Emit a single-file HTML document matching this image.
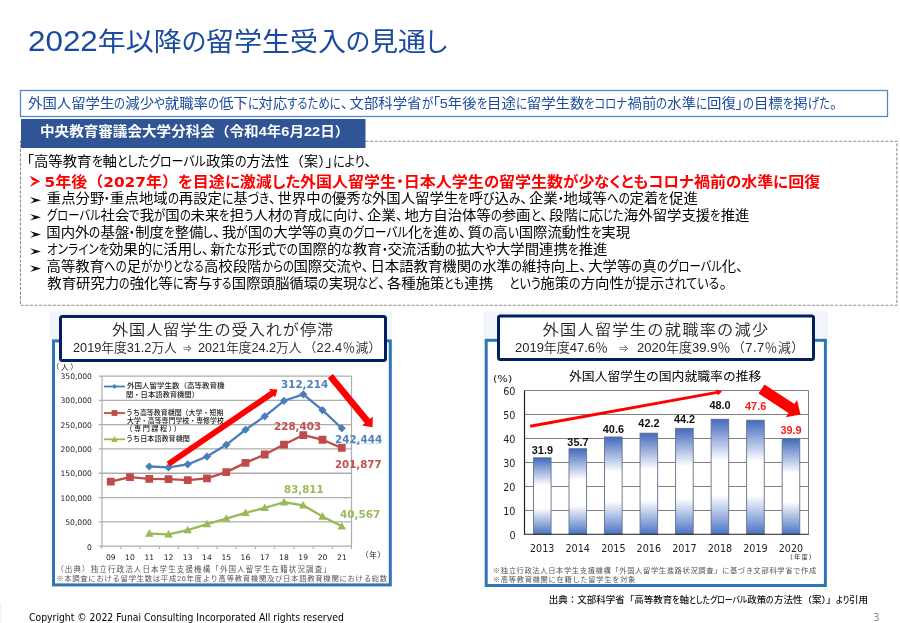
<!DOCTYPE html>
<html lang="ja">
<head>
<meta charset="utf-8">
<title>2022年以降の留学生受入の見通し</title>
<style>
html,body{margin:0;padding:0;background:#fff;}
body{width:900px;height:623px;overflow:hidden;}
#slide{position:relative;width:900px;height:623px;overflow:hidden;background:#fff;font-family:"Liberation Sans","Noto Sans CJK JP",sans-serif;}
svg{position:absolute;left:0;top:0;}
.t{position:absolute;white-space:nowrap;transform-origin:0 50%;font-feature-settings:"palt";color:#000;}
.k{display:inline-block;transform:scaleX(var(--s,1));transform-origin:0 50%;}
.w{font-feature-settings:normal;}
.p{letter-spacing:.1em;}
.e{font-size:1.12em;}
.b{font-family:"DejaVu Sans",sans-serif;font-size:.96em;}
.a{font-size:.72em;vertical-align:.12em;}
</style>
</head>
<body>
<div id="slide">
<svg width="900" height="623" viewBox="0 0 900 623">
<rect x="20.5" y="90.5" width="867" height="26" fill="#fff" stroke="#5587c8" stroke-width="1.3"/>
<rect x="20.5" y="141.3" width="876.4" height="164" fill="none" stroke="#8e8e8e" stroke-width="1.1" stroke-dasharray="3.1 1.5"/>
<rect x="0" y="603" width="1.2" height="20" fill="#f1f1f1"/>
<rect x="21" y="119" width="344.5" height="29" fill="#2f5597"/>
<rect x="49.5" y="311.5" width="342.5" height="30" fill="#f2f5fb"/>
<rect x="53.5" y="340.9" width="336.8" height="244" fill="#fff" stroke="#2e75b6" stroke-width="3"/>
<rect x="60.5" y="316.5" width="325" height="44" rx="2" fill="#fff" stroke="#002060" stroke-width="3"/>
<path d="M98.75 546.1H351.5M98.75 521.81H351.5M98.75 497.53H351.5M98.75 473.24H351.5M98.75 448.96H351.5M98.75 424.67H351.5M98.75 400.39H351.5M98.75 376.1H351.5" stroke="#adadad" stroke-width="1.3" fill="none"/>
<path d="M102 376V546.5M351.5 376V546.5" stroke="#adadad" stroke-width="1.2" fill="none"/>
<path d="M101.75 546v3M120.96 546v3M140.17 546v3M159.38 546v3M178.6 546v3M197.81 546v3M217.02 546v3M236.23 546v3M255.44 546v3M274.65 546v3M293.87 546v3M313.08 546v3M332.29 546v3M351.5 546v3" stroke="#adadad" stroke-width="1" fill="none"/>
<polyline points="149.25,533.56 168.5,534.3 187.75,530.15 207,524.16 226.25,518.65 245.5,512.89 264.75,507.79 284,502.25 303.25,505.29 322.5,516.46 341.75,526.3" fill="none" stroke="#98b954" stroke-width="2.3" stroke-linejoin="round"/><path d="M149.25 529.16l4.2 7.6h-8.4zM168.5 529.9l4.2 7.6h-8.4zM187.75 525.75l4.2 7.6h-8.4zM207 519.76l4.2 7.6h-8.4zM226.25 514.25l4.2 7.6h-8.4zM245.5 508.49l4.2 7.6h-8.4zM264.75 503.39l4.2 7.6h-8.4zM284 497.85l4.2 7.6h-8.4zM303.25 500.89l4.2 7.6h-8.4zM322.5 512.06l4.2 7.6h-8.4zM341.75 521.9l4.2 7.6h-8.4z" fill="#98b954"/>
<polyline points="110.75,481.54 130,477.14 149.25,478.94 168.5,479.09 187.75,480.18 207,478.4 226.25,472.14 245.5,462.88 264.75,454.5 284,444.53 303.25,435.06 322.5,439.73 341.75,447.95" fill="none" stroke="#be4b48" stroke-width="2.3" stroke-linejoin="round"/><path d="M106.85 477.64h7.8v7.8h-7.8zM126.1 473.24h7.8v7.8h-7.8zM145.35 475.04h7.8v7.8h-7.8zM164.6 475.19h7.8v7.8h-7.8zM183.85 476.28h7.8v7.8h-7.8zM203.1 474.5h7.8v7.8h-7.8zM222.35 468.24h7.8v7.8h-7.8zM241.6 458.98h7.8v7.8h-7.8zM260.85 450.6h7.8v7.8h-7.8zM280.1 440.63h7.8v7.8h-7.8zM299.35 431.16h7.8v7.8h-7.8zM318.6 435.83h7.8v7.8h-7.8zM337.85 444.05h7.8v7.8h-7.8z" fill="#be4b48"/>
<polyline points="149.25,466.49 168.5,467.39 187.75,464.33 207,456.55 226.25,444.79 245.5,429.77 264.75,416.29 284,400.78 303.25,394.35 322.5,410.2 341.75,428.24" fill="none" stroke="#4a7ebb" stroke-width="2.3" stroke-linejoin="round"/><path d="M149.25 462.39l4.1 4.1l-4.1 4.1l-4.1 -4.1zM168.5 463.29l4.1 4.1l-4.1 4.1l-4.1 -4.1zM187.75 460.23l4.1 4.1l-4.1 4.1l-4.1 -4.1zM207 452.45l4.1 4.1l-4.1 4.1l-4.1 -4.1zM226.25 440.69l4.1 4.1l-4.1 4.1l-4.1 -4.1zM245.5 425.67l4.1 4.1l-4.1 4.1l-4.1 -4.1zM264.75 412.19l4.1 4.1l-4.1 4.1l-4.1 -4.1zM284 396.68l4.1 4.1l-4.1 4.1l-4.1 -4.1zM303.25 390.25l4.1 4.1l-4.1 4.1l-4.1 -4.1zM322.5 406.1l4.1 4.1l-4.1 4.1l-4.1 -4.1zM341.75 424.14l4.1 4.1l-4.1 4.1l-4.1 -4.1z" fill="#4a7ebb"/>
<path d="M104 386.5h21" stroke="#4a7ebb" stroke-width="1.8"/><path d="M114.5 384.1l2.4 2.4l-2.4 2.4l-2.4 -2.4z" fill="#4a7ebb"/>
<path d="M104 413h21" stroke="#be4b48" stroke-width="1.8"/><rect x="111.6" y="410.1" width="5.8" height="5.8" fill="#be4b48"/>
<path d="M104 439.3h21" stroke="#98b954" stroke-width="1.8"/><path d="M114.5 436.1l3.2 5.8h-6.4z" fill="#98b954"/>
<path d="M336 443.6H381.5" stroke="#a9c1e2" stroke-width="1" stroke-dasharray="1.5 1"/>
<rect x="483.5" y="311.5" width="344.5" height="30" fill="#f2f5fb"/>
<rect x="486.2" y="340.3" width="339.2" height="245.2" fill="#fff" stroke="#2e75b6" stroke-width="3"/>
<rect x="498.5" y="316" width="315" height="43.5" rx="2" fill="#fff" stroke="#002060" stroke-width="3"/>
<path d="M524.5 510.5H808.75M524.5 486.5H808.75M524.5 462.5H808.75M524.5 438.5H808.75M524.5 414.5H808.75M524.5 390.5H808.75" stroke="#808080" stroke-width="1" fill="none"/>
<path d="M808.5 390.5V534.25" stroke="#808080" stroke-width="1" fill="none"/>
<defs><linearGradient id="bg" x1="0" y1="0" x2="0" y2="1"><stop offset="0" stop-color="#4169bd"/><stop offset="0.36" stop-color="#ffffff"/><stop offset="0.66" stop-color="#ffffff"/><stop offset="1" stop-color="#4a74c4"/></linearGradient></defs>
<g fill="url(#bg)" stroke="#66708a" stroke-width="0.9"><rect x="533.47" y="457.82" width="17.6" height="76.43"/><rect x="569" y="448.72" width="17.6" height="85.53"/><rect x="604.53" y="436.98" width="17.6" height="97.27"/><rect x="640.06" y="433.15" width="17.6" height="101.1"/><rect x="675.59" y="428.35" width="17.6" height="105.9"/><rect x="711.12" y="419.25" width="17.6" height="115"/><rect x="746.65" y="420.21" width="17.6" height="114.04"/><rect x="782.18" y="438.66" width="17.6" height="95.59"/></g>
<path d="M524.5 390.5V534.25H808.75" stroke="#222" stroke-width="1.2" fill="none"/>
</svg>
<div class="t" style='left:28.00px;top:21.2px;font-size:28px;line-height:42.0px;--s:0.8938;transform:scale(1.0000,0.93);color:#1a4ba0;'><span class="e">2022</span>年以降<span class="k" style="width:24.13px">の</span>留学生受入<span class="k" style="width:24.13px">の</span>見通<span class="k" style="width:21.16px">し</span></div>
<div class="t" style='left:28.00px;top:92.7px;font-size:14.4px;line-height:21.6px;--s:0.7889;transform:scale(1.0000,0.93);color:#1a4ba0;'>外国人留学生<span class="k" style="width:10.95px">の</span>減少<span class="k" style="width:10.66px">や</span>就職率<span class="k" style="width:10.95px">の</span>低下<span class="k" style="width:10.93px">に</span>対応<span class="k" style="width:53.52px">するために</span><span class="p">、</span>文部科学省<span class="k" style="width:11.12px">が</span>「5年後<span class="k" style="width:10.49px">を</span>目途<span class="k" style="width:10.93px">に</span>留学生数<span class="k" style="width:43.18px">をコロナ</span>禍前<span class="k" style="width:10.95px">の</span>水準<span class="k" style="width:10.93px">に</span>回復」<span class="k" style="width:10.95px">の</span>目標<span class="k" style="width:10.49px">を</span>掲<span class="k" style="width:22.14px">げた</span><span class="p">。</span></div>
<div class="t" style='left:40.23px;top:121.2px;font-size:14.4px;line-height:21.6px;transform:scale(1.0127,0.93);color:#fff;font-weight:700;'>中央教育審議会大学分科会<span class="w">（</span>令和4年6月22日<span class="w">）</span></div>
<div class="t" style='left:26.75px;top:150.6px;font-size:14.4px;line-height:21.6px;--s:0.8329;transform:scale(1.0000,0.93);'>「高等教育<span class="k" style="width:11.07px">を</span>軸<span class="k" style="width:88.90px">としたグローバル</span>政策<span class="k" style="width:11.56px">の</span>方法性<span class="w">（</span>案<span class="w">）</span>」<span class="k" style="width:31.74px">により</span><span class="p">、</span></div>
<div class="t" style='left:44.50px;top:170.2px;font-size:16px;line-height:24.0px;--s:0.9648;transform:scale(1.0000,0.93);color:#ff0000;font-weight:700;'><span class="b">5</span>年後<span class="w">（</span><span class="b">2027</span>年<span class="w">）</span><span class="k" style="width:14.82px">を</span>目途<span class="k" style="width:14.94px">に</span>激減<span class="k" style="width:28.34px">した</span>外国人留学生<span class="k" style="width:7.73px">・</span>日本人学生<span class="k" style="width:15.23px">の</span>留学生数<span class="k" style="width:15.39px">が</span>少<span class="k" style="width:99.49px">なくともコロナ</span>禍前<span class="k" style="width:15.23px">の</span>水準<span class="k" style="width:14.94px">に</span>回復</div>
<div class="t" style='left:46.75px;top:188.2px;font-size:14.4px;line-height:21.6px;--s:0.8038;transform:scale(1.0000,0.93);'>重点分野<span class="k" style="width:5.79px">・</span>重点地域<span class="k" style="width:11.15px">の</span>再設定<span class="k" style="width:11.14px">に</span>基<span class="k" style="width:21.28px">づき</span><span class="p">、</span>世界中<span class="k" style="width:11.15px">の</span>優秀<span class="k" style="width:11.37px">な</span>外国人留学生<span class="k" style="width:10.69px">を</span>呼<span class="k" style="width:11.17px">び</span>込<span class="k" style="width:11.32px">み</span><span class="p">、</span>企業<span class="k" style="width:5.79px">・</span>地域等<span class="k" style="width:22.90px">への</span>定着<span class="k" style="width:10.69px">を</span>促進</div>
<div class="t" style='left:47.00px;top:205.3px;font-size:14.4px;line-height:21.6px;--s:0.7856;transform:scale(1.0000,0.93);'><span class="k" style="width:53.56px">グローバル</span>社会<span class="k" style="width:10.45px">で</span>我<span class="k" style="width:11.07px">が</span>国<span class="k" style="width:10.90px">の</span>未来<span class="k" style="width:10.45px">を</span>担<span class="k" style="width:9.40px">う</span>人材<span class="k" style="width:10.90px">の</span>育成<span class="k" style="width:10.89px">に</span>向<span class="k" style="width:11.04px">け</span><span class="p">、</span>企業<span class="p">、</span>地方自治体等<span class="k" style="width:10.90px">の</span>参画<span class="k" style="width:9.97px">と</span><span class="p">、</span>段階<span class="k" style="width:10.89px">に</span>応<span class="k" style="width:20.67px">じた</span>海外留学支援<span class="k" style="width:10.45px">を</span>推進</div>
<div class="t" style='left:46.25px;top:222.4px;font-size:14.4px;line-height:21.6px;--s:0.8053;transform:scale(1.0000,0.93);'>国内外<span class="k" style="width:11.17px">の</span>基盤<span class="k" style="width:5.80px">・</span>制度<span class="k" style="width:10.71px">を</span>整備<span class="k" style="width:9.80px">し</span><span class="p">、</span>我<span class="k" style="width:11.35px">が</span>国<span class="k" style="width:11.17px">の</span>大学等<span class="k" style="width:11.17px">の</span>真<span class="k" style="width:66.07px">のグローバル</span>化<span class="k" style="width:10.71px">を</span>進<span class="k" style="width:11.55px">め</span><span class="p">、</span>質<span class="k" style="width:11.17px">の</span>高<span class="k" style="width:10.95px">い</span>国際流動性<span class="k" style="width:10.71px">を</span>実現</div>
<div class="t" style='left:46.50px;top:238.5px;font-size:14.4px;line-height:21.6px;--s:0.8082;transform:scale(1.0000,0.93);'><span class="k" style="width:62.41px">オンラインを</span>効果的<span class="k" style="width:11.20px">に</span>活用<span class="k" style="width:9.84px">し</span><span class="p">、</span>新<span class="k" style="width:22.53px">たな</span>形式<span class="k" style="width:21.96px">での</span>国際的<span class="k" style="width:11.43px">な</span>教育<span class="k" style="width:5.82px">・</span>交流活動<span class="k" style="width:11.21px">の</span>拡大<span class="k" style="width:10.92px">や</span>大学間連携<span class="k" style="width:10.75px">を</span>推進</div>
<div class="t" style='left:46.50px;top:255.6px;font-size:14.4px;line-height:21.6px;--s:0.7931;transform:scale(1.0000,0.93);'>高等教育<span class="k" style="width:22.59px">への</span>足<span class="k" style="width:62.87px">がかりとなる</span>高校段階<span class="k" style="width:31.95px">からの</span>国際交流<span class="k" style="width:10.72px">や</span><span class="p">、</span>日本語教育機関<span class="k" style="width:11.00px">の</span>水準<span class="k" style="width:11.00px">の</span>維持向上<span class="p">、</span>大学等<span class="k" style="width:11.00px">の</span>真<span class="k" style="width:65.07px">のグローバル</span>化<span class="p">、</span></div>
<div class="t" style='left:47.25px;top:272.7px;font-size:14.4px;line-height:21.6px;--s:0.7568;transform:scale(1.0000,0.93);'>教育研究力<span class="k" style="width:10.50px">の</span>強化等<span class="k" style="width:10.49px">に</span>寄与<span class="k" style="width:19.62px">する</span>国際頭脳循環<span class="k" style="width:10.50px">の</span>実現<span class="k" style="width:20.80px">など</span><span class="p">、</span>各種施策<span class="k" style="width:19.90px">とも</span>連携</div>
<div class="t" style='left:508.50px;top:272.7px;font-size:14.4px;line-height:21.6px;--s:0.8323;transform:scale(1.0000,0.93);'><span class="k" style="width:31.81px">という</span>施策<span class="k" style="width:11.55px">の</span>方向性<span class="k" style="width:11.73px">が</span>提示<span class="k" style="width:55.36px">されている</span><span class="p">。</span></div>
<div class="t" style='left:112.00px;top:317.45px;font-size:16.2px;line-height:24.3px;transform:scale(1.0000,0.92);color:#262626;font-weight:350;font-feature-settings:normal;letter-spacing:0.896px;'>外国人留学生の受入れが停滞</div>
<div class="t" style='left:72.50px;top:338.3px;font-size:12.8px;line-height:19.2px;transform:scaleX(0.9928);color:#262626;font-weight:350;font-feature-settings:normal;'>2019年度31.2万人</div>
<div class="t" style='left:182.76px;top:343.45px;font-size:9px;line-height:13.5px;transform:scaleX(0.9412);color:#262626;font-weight:350;font-feature-settings:normal;'>⇒</div>
<div class="t" style='left:198.01px;top:338.3px;font-size:12.8px;line-height:19.2px;transform:scaleX(0.9880);color:#262626;font-weight:350;font-feature-settings:normal;'>2021年度24.2万人</div>
<div class="t" style='left:303.50px;top:338.3px;font-size:12.8px;line-height:19.2px;color:#262626;font-weight:350;font-feature-settings:normal;letter-spacing:0.250px;'>（22.4％減）</div>
<div class="t" style='left:51.75px;top:361.5px;font-size:7.6px;line-height:11.4px;color:#222;font-feature-settings:normal;letter-spacing:1.625px;'>（人）</div>
<div class="t" style='left:87.00px;top:542.0px;font-size:7.6px;line-height:11.4px;color:#222;font-family:"DejaVu Sans","Noto Sans CJK JP",sans-serif;'>0</div>
<div class="t" style='left:65.25px;top:516.71px;font-size:7.6px;line-height:11.4px;color:#222;font-family:"DejaVu Sans","Noto Sans CJK JP",sans-serif;'>50,000</div>
<div class="t" style='left:60.50px;top:493.43px;font-size:7.6px;line-height:11.4px;color:#222;font-family:"DejaVu Sans","Noto Sans CJK JP",sans-serif;'>100,000</div>
<div class="t" style='left:60.50px;top:468.14px;font-size:7.6px;line-height:11.4px;color:#222;font-family:"DejaVu Sans","Noto Sans CJK JP",sans-serif;'>150,000</div>
<div class="t" style='left:60.50px;top:443.86px;font-size:7.6px;line-height:11.4px;color:#222;font-family:"DejaVu Sans","Noto Sans CJK JP",sans-serif;'>200,000</div>
<div class="t" style='left:60.50px;top:419.57px;font-size:7.6px;line-height:11.4px;color:#222;font-family:"DejaVu Sans","Noto Sans CJK JP",sans-serif;'>250,000</div>
<div class="t" style='left:60.50px;top:395.29px;font-size:7.6px;line-height:11.4px;color:#222;font-family:"DejaVu Sans","Noto Sans CJK JP",sans-serif;'>300,000</div>
<div class="t" style='left:60.50px;top:371.0px;font-size:7.6px;line-height:11.4px;color:#222;font-family:"DejaVu Sans","Noto Sans CJK JP",sans-serif;'>350,000</div>
<div class="t" style='left:105.92px;top:551.5px;font-size:7.6px;line-height:11.4px;color:#222;font-family:"DejaVu Sans","Noto Sans CJK JP",sans-serif;'>09</div>
<div class="t" style='left:125.05px;top:551.5px;font-size:7.6px;line-height:11.4px;color:#222;font-family:"DejaVu Sans","Noto Sans CJK JP",sans-serif;'>10</div>
<div class="t" style='left:144.42px;top:551.5px;font-size:7.6px;line-height:11.4px;color:#222;font-family:"DejaVu Sans","Noto Sans CJK JP",sans-serif;'>11</div>
<div class="t" style='left:163.67px;top:551.5px;font-size:7.6px;line-height:11.4px;color:#222;font-family:"DejaVu Sans","Noto Sans CJK JP",sans-serif;'>12</div>
<div class="t" style='left:182.80px;top:551.5px;font-size:7.6px;line-height:11.4px;color:#222;font-family:"DejaVu Sans","Noto Sans CJK JP",sans-serif;'>13</div>
<div class="t" style='left:202.05px;top:551.5px;font-size:7.6px;line-height:11.4px;color:#222;font-family:"DejaVu Sans","Noto Sans CJK JP",sans-serif;'>14</div>
<div class="t" style='left:221.42px;top:551.5px;font-size:7.6px;line-height:11.4px;color:#222;font-family:"DejaVu Sans","Noto Sans CJK JP",sans-serif;'>15</div>
<div class="t" style='left:240.55px;top:551.5px;font-size:7.6px;line-height:11.4px;color:#222;font-family:"DejaVu Sans","Noto Sans CJK JP",sans-serif;'>16</div>
<div class="t" style='left:259.92px;top:551.5px;font-size:7.6px;line-height:11.4px;color:#222;font-family:"DejaVu Sans","Noto Sans CJK JP",sans-serif;'>17</div>
<div class="t" style='left:279.05px;top:551.5px;font-size:7.6px;line-height:11.4px;color:#222;font-family:"DejaVu Sans","Noto Sans CJK JP",sans-serif;'>18</div>
<div class="t" style='left:298.30px;top:551.5px;font-size:7.6px;line-height:11.4px;color:#222;font-family:"DejaVu Sans","Noto Sans CJK JP",sans-serif;'>19</div>
<div class="t" style='left:317.67px;top:551.5px;font-size:7.6px;line-height:11.4px;color:#222;font-family:"DejaVu Sans","Noto Sans CJK JP",sans-serif;'>20</div>
<div class="t" style='left:337.05px;top:551.5px;font-size:7.6px;line-height:11.4px;color:#222;font-family:"DejaVu Sans","Noto Sans CJK JP",sans-serif;'>21</div>
<div class="t" style='left:361.10px;top:550.3px;font-size:7.6px;line-height:11.4px;color:#222;font-feature-settings:normal;letter-spacing:0.625px;'>（年）</div>
<div class="t" style='left:126.74px;top:380.6px;font-size:7.2px;line-height:10.8px;transform:scaleX(1.0430);color:#1c1c1c;font-weight:500;font-feature-settings:normal;'>外国人留学生数（高等教育機</div>
<div class="t" style='left:126.49px;top:390.4px;font-size:7.2px;line-height:10.8px;transform:scaleX(1.0150);color:#1c1c1c;font-weight:500;font-feature-settings:normal;'>関・日本語教育機関）</div>
<div class="t" style='left:126.03px;top:407.8px;font-size:7.2px;line-height:10.8px;transform:scaleX(0.9673);color:#1c1c1c;font-weight:500;font-feature-settings:normal;'>うち高等教育機関（大学・短期</div>
<div class="t" style='left:126.76px;top:416.2px;font-size:7.2px;line-height:10.8px;transform:scaleX(0.9626);color:#1c1c1c;font-weight:500;font-feature-settings:normal;'>大学・高等専門学校・専修学校</div>
<div class="t" style='left:125.25px;top:424.2px;font-size:7.2px;line-height:10.8px;color:#1c1c1c;font-weight:500;font-feature-settings:normal;letter-spacing:1.500px;'>（専門課程））</div>
<div class="t" style='left:126.01px;top:434.2px;font-size:7.2px;line-height:10.8px;transform:scaleX(0.9881);color:#1c1c1c;font-weight:500;font-feature-settings:normal;'>うち日本語教育機関</div>
<div class="t" style='left:281.25px;top:377.2px;font-size:10.4px;line-height:15.6px;transform:scaleX(0.9946);color:#4f81bd;font-weight:700;font-family:"DejaVu Sans","Noto Sans CJK JP",sans-serif;'>312,214</div>
<div class="t" style='left:274.25px;top:418.8px;font-size:10.4px;line-height:15.6px;transform:scaleX(0.9945);color:#c0504d;font-weight:700;font-family:"DejaVu Sans","Noto Sans CJK JP",sans-serif;'>228,403</div>
<div class="t" style='left:335.25px;top:432.2px;font-size:10.4px;line-height:15.6px;transform:scaleX(0.9946);color:#4f81bd;font-weight:700;font-family:"DejaVu Sans","Noto Sans CJK JP",sans-serif;'>242,444</div>
<div class="t" style='left:335.26px;top:456.6px;font-size:10.4px;line-height:15.6px;transform:scaleX(0.9836);color:#c0504d;font-weight:700;font-family:"DejaVu Sans","Noto Sans CJK JP",sans-serif;'>201,877</div>
<div class="t" style='left:283.51px;top:482.4px;font-size:10.4px;line-height:15.6px;transform:scaleX(0.9872);color:#9bbb59;font-weight:700;font-family:"DejaVu Sans","Noto Sans CJK JP",sans-serif;'>83,811</div>
<div class="t" style='left:339.50px;top:507.4px;font-size:10.4px;line-height:15.6px;transform:scaleX(1.0065);color:#9bbb59;font-weight:700;font-family:"DejaVu Sans","Noto Sans CJK JP",sans-serif;'>40,567</div>
<div class="t" style='left:56.25px;top:563.67px;font-size:7.5px;line-height:11.25px;color:#555;font-feature-settings:normal;letter-spacing:1.113px;'>（出典）独立行政法人日本学生支援機構「外国人留学生在籍状況調査」</div>
<div class="t" style='left:56.14px;top:572.85px;font-size:7.4px;line-height:11.1px;color:#555;font-feature-settings:normal;letter-spacing:0.666px;'>※本調査における留学生数は平成26年度より高等教育機関及び日本語教育機関における総数</div>
<div class="t" style='left:542.50px;top:316.85px;font-size:16.2px;line-height:24.3px;transform:scale(1.0000,0.92);color:#262626;font-weight:350;font-feature-settings:normal;letter-spacing:1.271px;'>外国人留学生の就職率の減少</div>
<div class="t" style='left:515.49px;top:338.3px;font-size:12.8px;line-height:19.2px;transform:scaleX(1.0139);color:#262626;font-weight:350;font-feature-settings:normal;'>2019年度47.6％</div>
<div class="t" style='left:618.59px;top:343.45px;font-size:9px;line-height:13.5px;transform:scaleX(1.0235);color:#262626;font-weight:350;font-feature-settings:normal;'>⇒</div>
<div class="t" style='left:636.99px;top:338.3px;font-size:12.8px;line-height:19.2px;transform:scaleX(1.0194);color:#262626;font-weight:350;font-feature-settings:normal;'>2020年度39.9％</div>
<div class="t" style='left:732.00px;top:338.3px;font-size:12.8px;line-height:19.2px;color:#262626;font-weight:350;font-feature-settings:normal;letter-spacing:0.500px;'>（7.7％減）</div>
<div class="t" style='left:493.11px;top:371.55px;font-size:9.4px;line-height:14.1px;transform:scaleX(1.1864);color:#222;font-family:"DejaVu Sans","Noto Sans CJK JP",sans-serif;'>(%)</div>
<div class="t" style='left:569.49px;top:368.15px;font-size:12.6px;line-height:18.9px;transform:scale(1.0186,0.96);font-feature-settings:normal;'>外国人留学生の国内就職率の推移</div>
<div class="t" style='left:509.50px;top:529.45px;font-size:9.6px;line-height:14.4px;color:#222;font-family:"DejaVu Sans","Noto Sans CJK JP",sans-serif;'>0</div>
<div class="t" style='left:503.25px;top:505.49px;font-size:9.6px;line-height:14.4px;color:#222;font-family:"DejaVu Sans","Noto Sans CJK JP",sans-serif;'>10</div>
<div class="t" style='left:503.25px;top:480.53px;font-size:9.6px;line-height:14.4px;color:#222;font-family:"DejaVu Sans","Noto Sans CJK JP",sans-serif;'>20</div>
<div class="t" style='left:503.25px;top:456.57px;font-size:9.6px;line-height:14.4px;color:#222;font-family:"DejaVu Sans","Noto Sans CJK JP",sans-serif;'>30</div>
<div class="t" style='left:503.25px;top:432.62px;font-size:9.6px;line-height:14.4px;color:#222;font-family:"DejaVu Sans","Noto Sans CJK JP",sans-serif;'>40</div>
<div class="t" style='left:503.25px;top:408.66px;font-size:9.6px;line-height:14.4px;color:#222;font-family:"DejaVu Sans","Noto Sans CJK JP",sans-serif;'>50</div>
<div class="t" style='left:503.25px;top:384.7px;font-size:9.6px;line-height:14.4px;color:#222;font-family:"DejaVu Sans","Noto Sans CJK JP",sans-serif;'>60</div>
<div class="t" style='left:530.03px;top:541.8px;font-size:9.6px;line-height:14.4px;color:#222;font-family:"DejaVu Sans","Noto Sans CJK JP",sans-serif;'>2013</div>
<div class="t" style='left:565.47px;top:541.8px;font-size:9.6px;line-height:14.4px;color:#222;font-family:"DejaVu Sans","Noto Sans CJK JP",sans-serif;'>2014</div>
<div class="t" style='left:601.16px;top:541.8px;font-size:9.6px;line-height:14.4px;color:#222;font-family:"DejaVu Sans","Noto Sans CJK JP",sans-serif;'>2015</div>
<div class="t" style='left:636.59px;top:541.8px;font-size:9.6px;line-height:14.4px;color:#222;font-family:"DejaVu Sans","Noto Sans CJK JP",sans-serif;'>2016</div>
<div class="t" style='left:672.27px;top:541.8px;font-size:9.6px;line-height:14.4px;color:#222;font-family:"DejaVu Sans","Noto Sans CJK JP",sans-serif;'>2017</div>
<div class="t" style='left:707.70px;top:541.8px;font-size:9.6px;line-height:14.4px;color:#222;font-family:"DejaVu Sans","Noto Sans CJK JP",sans-serif;'>2018</div>
<div class="t" style='left:743.27px;top:541.8px;font-size:9.6px;line-height:14.4px;color:#222;font-family:"DejaVu Sans","Noto Sans CJK JP",sans-serif;'>2019</div>
<div class="t" style='left:778.70px;top:541.8px;font-size:9.6px;line-height:14.4px;color:#222;font-family:"DejaVu Sans","Noto Sans CJK JP",sans-serif;'>2020</div>
<div class="t" style='left:786.60px;top:551.85px;font-size:6.2px;line-height:9.3px;color:#222;font-feature-settings:normal;letter-spacing:1.317px;'>（年度）</div>
<div class="t" style='left:531.78px;top:442.22px;font-size:10.9px;line-height:16.35px;transform:scale(1.0000,1.08);color:#111;font-weight:700;font-feature-settings:normal;'>31.9</div>
<div class="t" style='left:567.34px;top:433.82px;font-size:10.9px;line-height:16.35px;transform:scale(1.0000,1.08);color:#111;font-weight:700;font-feature-settings:normal;'>35.7</div>
<div class="t" style='left:602.78px;top:421.32px;font-size:10.9px;line-height:16.35px;transform:scale(1.0000,1.08);color:#111;font-weight:700;font-feature-settings:normal;'>40.6</div>
<div class="t" style='left:638.34px;top:414.62px;font-size:10.9px;line-height:16.35px;transform:scale(1.0000,1.08);color:#111;font-weight:700;font-feature-settings:normal;'>42.2</div>
<div class="t" style='left:673.89px;top:410.52px;font-size:10.9px;line-height:16.35px;transform:scale(1.0000,1.08);color:#111;font-weight:700;font-feature-settings:normal;'>44.2</div>
<div class="t" style='left:709.45px;top:396.62px;font-size:10.9px;line-height:16.35px;transform:scale(1.0000,1.08);color:#111;font-weight:700;font-feature-settings:normal;'>48.0</div>
<div class="t" style='left:745.02px;top:397.62px;font-size:10.9px;line-height:16.35px;transform:scale(1.0000,1.08);color:#ff1a1a;font-weight:700;font-feature-settings:normal;'>47.6</div>
<div class="t" style='left:780.45px;top:421.62px;font-size:10.9px;line-height:16.35px;transform:scale(1.0000,1.08);color:#ff1a1a;font-weight:700;font-feature-settings:normal;'>39.9</div>
<div class="t" style='left:492.85px;top:566.12px;font-size:7.3px;line-height:10.95px;color:#555;font-feature-settings:normal;letter-spacing:0.605px;'>※独立行政法人日本学生支援機構「外国人留学生進路状況調査」に基づき文部科学省で作成</div>
<div class="t" style='left:492.85px;top:575.12px;font-size:7.3px;line-height:10.95px;color:#555;font-feature-settings:normal;letter-spacing:0.659px;'>※高等教育機関に在籍した留学生を対象</div>
<div class="t" style='left:548.69px;top:593.48px;font-size:9.5px;line-height:14.25px;--s:0.8267;transform:scale(1.0000,0.93);color:#111;font-weight:500;'>出典<span class="w">：</span>文部科学省<span class="w">「</span>高等教育<span class="k" style="width:7.26px">を</span>軸<span class="k" style="width:58.26px">としたグローバル</span>政策<span class="k" style="width:7.58px">の</span>方法性<span class="w">（</span>案<span class="w">）」</span><span class="k" style="width:13.24px">より</span>引用</div>
<div class="t" style='left:28.50px;top:610.52px;font-size:9.3px;line-height:13.95px;transform:scale(0.9992,1.04);font-family:"DejaVu Sans","Noto Sans CJK JP",sans-serif;'>Copyright © 2022 Funai Consulting Incorporated All rights reserved</div>
<div class="t" style='left:872.88px;top:609.62px;font-size:10.5px;line-height:15.75px;color:#8c8c8c;font-family:"DejaVu Sans","Noto Sans CJK JP",sans-serif;'>3</div>
<svg width="900" height="623" viewBox="0 0 900 623">
<polygon points="169.94,466.59 273.77,395.66 275.09,397.6 277.5,389.6 269.17,388.93 270.5,390.87 166.66,461.81" fill="#ff0000"/>
<polygon points="327.76,378.3 364.86,423.14 362.01,425.5 372.5,427.2 372.79,416.57 369.94,418.93 332.84,374.1" fill="#ff0000"/>
<polygon points="530.47,427.68 717.35,393.87 717.65,395.54 722,391.5 716.51,389.24 716.81,390.91 529.93,424.72" fill="#ff0000"/>
<polygon points="758.54,393.52 788.51,413.11 785.85,417.17 800.5,414.5 797.07,400.01 794.42,404.07 764.46,384.48" fill="#ff0000"/>
<path d="M29.5 175.4L40.2 181.2L29.6 187L33.4 182.3L36.6 181.4L32.6 180.2Z" fill="#ff0000"/>
<path d="M29.8 196.9L41 200.2L30 203.5L33.6 200.7L33.6 199.7Z" fill="#111"/>
<path d="M29.8 214L41 217.3L30 220.6L33.6 217.8L33.6 216.8Z" fill="#111"/>
<path d="M29.8 231.1L41 234.4L30 237.7L33.6 234.9L33.6 233.9Z" fill="#111"/>
<path d="M29.8 248.2L41 251.5L30 254.8L33.6 252L33.6 251Z" fill="#111"/>
<path d="M29.8 265.3L41 268.6L30 271.9L33.6 269.1L33.6 268.1Z" fill="#111"/>
</svg>
</div>
</body>
</html>
